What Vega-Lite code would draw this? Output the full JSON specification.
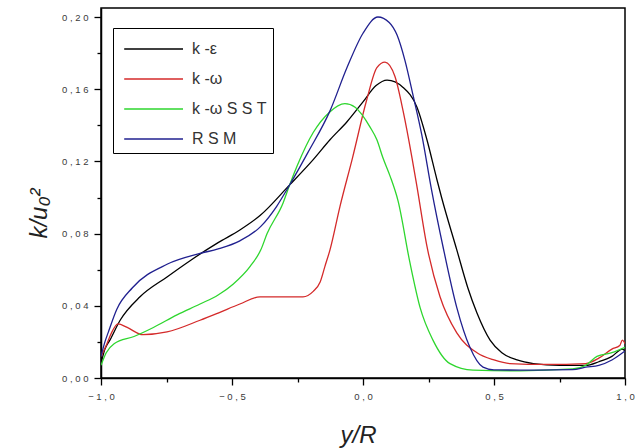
{
  "$schema": "https://vega.github.io/schema/vega-lite/v6.json",
  "width": 524,
  "height": 370,
  "autosize": {"type": "none"},
  "padding": {"left": 101, "top": 8, "right": 17, "bottom": 70},
  "background": "white",
  "config": {
    "view": {"stroke": "black", "strokeWidth": 1.5},
    "font": "Liberation Sans",
    "axis": {
      "domainColor": "black", "domainWidth": 1.5, "tickColor": "black", "tickWidth": 1.3,
      "grid": false, "labelFont": "Liberation Sans", "labelFontSize": 9.5, "labelColor": "#3a3a3a",
      "titleFont": "Liberation Sans", "titleFontStyle": "italic", "titleFontWeight": "normal",
      "titleFontSize": 24, "titleColor": "#222"
    }
  },
  "data": {"values": [
    {"m":"k-ε","x":-1.0,"y":0.008},{"m":"k-ε","x":-0.985,"y":0.016},{"m":"k-ε","x":-0.966,"y":0.021},{"m":"k-ε","x":-0.927,"y":0.032},{"m":"k-ε","x":-0.851,"y":0.045},{"m":"k-ε","x":-0.748,"y":0.056},{"m":"k-ε","x":-0.66,"y":0.065},{"m":"k-ε","x":-0.553,"y":0.075},{"m":"k-ε","x":-0.47,"y":0.082},{"m":"k-ε","x":-0.393,"y":0.090},{"m":"k-ε","x":-0.28,"y":0.107},{"m":"k-ε","x":-0.19,"y":0.121},{"m":"k-ε","x":-0.126,"y":0.132},{"m":"k-ε","x":-0.061,"y":0.142},{"m":"k-ε","x":0.0,"y":0.153},{"m":"k-ε","x":0.05,"y":0.162},{"m":"k-ε","x":0.092,"y":0.165},{"m":"k-ε","x":0.153,"y":0.161},{"m":"k-ε","x":0.206,"y":0.150},{"m":"k-ε","x":0.244,"y":0.132},{"m":"k-ε","x":0.282,"y":0.110},{"m":"k-ε","x":0.30,"y":0.100},{"m":"k-ε","x":0.358,"y":0.071},{"m":"k-ε","x":0.40,"y":0.050},{"m":"k-ε","x":0.435,"y":0.036},{"m":"k-ε","x":0.485,"y":0.021},{"m":"k-ε","x":0.53,"y":0.014},{"m":"k-ε","x":0.588,"y":0.010},{"m":"k-ε","x":0.65,"y":0.008},{"m":"k-ε","x":0.75,"y":0.007},{"m":"k-ε","x":0.85,"y":0.007},{"m":"k-ε","x":0.9,"y":0.009},{"m":"k-ε","x":0.95,"y":0.012},{"m":"k-ε","x":0.99,"y":0.016},{"m":"k-ε","x":1.0,"y":0.015},
    {"m":"k-ω","x":-1.0,"y":0.012},{"m":"k-ω","x":-0.98,"y":0.018},{"m":"k-ω","x":-0.96,"y":0.025},{"m":"k-ω","x":-0.935,"y":0.030},{"m":"k-ω","x":-0.9,"y":0.028},{"m":"k-ω","x":-0.84,"y":0.024},{"m":"k-ω","x":-0.748,"y":0.0255},{"m":"k-ω","x":-0.622,"y":0.032},{"m":"k-ω","x":-0.553,"y":0.036},{"m":"k-ω","x":-0.47,"y":0.041},{"m":"k-ω","x":-0.393,"y":0.045},{"m":"k-ω","x":-0.3,"y":0.045},{"m":"k-ω","x":-0.229,"y":0.045},{"m":"k-ω","x":-0.19,"y":0.048},{"m":"k-ω","x":-0.164,"y":0.053},{"m":"k-ω","x":-0.145,"y":0.062},{"m":"k-ω","x":-0.126,"y":0.071},{"m":"k-ω","x":-0.088,"y":0.095},{"m":"k-ω","x":-0.04,"y":0.122},{"m":"k-ω","x":0.014,"y":0.154},{"m":"k-ω","x":0.053,"y":0.172},{"m":"k-ω","x":0.084,"y":0.175},{"m":"k-ω","x":0.122,"y":0.167},{"m":"k-ω","x":0.153,"y":0.148},{"m":"k-ω","x":0.187,"y":0.122},{"m":"k-ω","x":0.206,"y":0.106},{"m":"k-ω","x":0.244,"y":0.073},{"m":"k-ω","x":0.294,"y":0.045},{"m":"k-ω","x":0.358,"y":0.025},{"m":"k-ω","x":0.435,"y":0.014},{"m":"k-ω","x":0.5,"y":0.010},{"m":"k-ω","x":0.56,"y":0.008},{"m":"k-ω","x":0.7,"y":0.0075},{"m":"k-ω","x":0.85,"y":0.008},{"m":"k-ω","x":0.9,"y":0.011},{"m":"k-ω","x":0.95,"y":0.016},{"m":"k-ω","x":0.98,"y":0.018},{"m":"k-ω","x":0.99,"y":0.021},{"m":"k-ω","x":1.0,"y":0.019},
    {"m":"k-ω SST","x":-1.0,"y":0.007},{"m":"k-ω SST","x":-0.98,"y":0.014},{"m":"k-ω SST","x":-0.95,"y":0.019},{"m":"k-ω SST","x":-0.874,"y":0.023},{"m":"k-ω SST","x":-0.80,"y":0.028},{"m":"k-ω SST","x":-0.71,"y":0.035},{"m":"k-ω SST","x":-0.622,"y":0.041},{"m":"k-ω SST","x":-0.553,"y":0.046},{"m":"k-ω SST","x":-0.496,"y":0.052},{"m":"k-ω SST","x":-0.43,"y":0.062},{"m":"k-ω SST","x":-0.39,"y":0.071},{"m":"k-ω SST","x":-0.366,"y":0.080},{"m":"k-ω SST","x":-0.305,"y":0.097},{"m":"k-ω SST","x":-0.28,"y":0.107},{"m":"k-ω SST","x":-0.25,"y":0.118},{"m":"k-ω SST","x":-0.19,"y":0.136},{"m":"k-ω SST","x":-0.13,"y":0.147},{"m":"k-ω SST","x":-0.069,"y":0.152},{"m":"k-ω SST","x":-0.03,"y":0.150},{"m":"k-ω SST","x":0.027,"y":0.139},{"m":"k-ω SST","x":0.053,"y":0.132},{"m":"k-ω SST","x":0.076,"y":0.122},{"m":"k-ω SST","x":0.103,"y":0.112},{"m":"k-ω SST","x":0.134,"y":0.098},{"m":"k-ω SST","x":0.179,"y":0.064},{"m":"k-ω SST","x":0.218,"y":0.039},{"m":"k-ω SST","x":0.267,"y":0.021},{"m":"k-ω SST","x":0.332,"y":0.008},{"m":"k-ω SST","x":0.42,"y":0.0044},{"m":"k-ω SST","x":0.6,"y":0.004},{"m":"k-ω SST","x":0.8,"y":0.005},{"m":"k-ω SST","x":0.85,"y":0.007},{"m":"k-ω SST","x":0.893,"y":0.012},{"m":"k-ω SST","x":0.95,"y":0.014},{"m":"k-ω SST","x":1.0,"y":0.017},
    {"m":"RSM","x":-1.0,"y":0.012},{"m":"RSM","x":-0.985,"y":0.020},{"m":"RSM","x":-0.973,"y":0.025},{"m":"RSM","x":-0.94,"y":0.038},{"m":"RSM","x":-0.88,"y":0.050},{"m":"RSM","x":-0.748,"y":0.063},{"m":"RSM","x":-0.622,"y":0.069},{"m":"RSM","x":-0.553,"y":0.0715},{"m":"RSM","x":-0.47,"y":0.076},{"m":"RSM","x":-0.39,"y":0.084},{"m":"RSM","x":-0.33,"y":0.095},{"m":"RSM","x":-0.28,"y":0.107},{"m":"RSM","x":-0.21,"y":0.125},{"m":"RSM","x":-0.126,"y":0.148},{"m":"RSM","x":-0.061,"y":0.172},{"m":"RSM","x":0.0,"y":0.191},{"m":"RSM","x":0.057,"y":0.200},{"m":"RSM","x":0.10,"y":0.197},{"m":"RSM","x":0.13,"y":0.190},{"m":"RSM","x":0.16,"y":0.176},{"m":"RSM","x":0.192,"y":0.156},{"m":"RSM","x":0.224,"y":0.135},{"m":"RSM","x":0.262,"y":0.104},{"m":"RSM","x":0.305,"y":0.073},{"m":"RSM","x":0.358,"y":0.039},{"m":"RSM","x":0.408,"y":0.017},{"m":"RSM","x":0.458,"y":0.006},{"m":"RSM","x":0.5,"y":0.0045},{"m":"RSM","x":0.6,"y":0.0044},{"m":"RSM","x":0.8,"y":0.0046},{"m":"RSM","x":0.85,"y":0.006},{"m":"RSM","x":0.9,"y":0.007},{"m":"RSM","x":0.95,"y":0.010},{"m":"RSM","x":1.0,"y":0.015}
  ]},
  "mark": {"type": "line", "strokeWidth": 1.3, "interpolate": "monotone", "clip": true},
  "encoding": {
    "x": {"field": "x", "type": "quantitative", "scale": {"domain": [-1, 1], "nice": false, "zero": false},
      "axis": {"values": [-1, -0.75, -0.5, -0.25, 0, 0.25, 0.5, 0.75, 1],
        "labelExpr": "abs(datum.value*2 - round(datum.value*2)) < 0.001 ? replace(replace(format(datum.value, '.1f'), '.', ','), regexp('(.)(?=.)', 'g'), '$1 ') : ''",
        "tickSize": {"condition": {"test": "abs(datum.value*2 - round(datum.value*2)) < 0.001", "value": 7}, "value": 4},
        "labelPadding": 6, "labelFlush": false, "labelOverlap": false,
        "title": "y/R", "titleX": 257, "titleY": 64, "titleBaseline": "alphabetic"}},
    "y": {"field": "y", "type": "quantitative", "scale": {"domain": [0, 0.205], "nice": false},
      "axis": {"values": [0, 0.02, 0.04, 0.06, 0.08, 0.10, 0.12, 0.14, 0.16, 0.18, 0.20],
        "labelExpr": "abs(datum.value*25 - round(datum.value*25)) < 0.001 ? replace(replace(format(datum.value, '.2f'), '.', ','), regexp('(.)(?=.)', 'g'), '$1 ') : ''",
        "tickSize": {"condition": {"test": "abs(datum.value*25 - round(datum.value*25)) < 0.001", "value": 7}, "value": 4},
        "labelPadding": 6, "labelFlush": false, "labelOverlap": false,
        "title": "k/u₀²", "titleX": -62, "titleY": 205, "titleAngle": 270, "titleBaseline": "middle", "titleAlign": "center"}},
    "color": {"field": "m", "type": "nominal",
      "scale": {"domain": ["k-ε", "k-ω", "k-ω SST", "RSM"], "range": ["#000000", "#d42a2a", "#2ed62e", "#20208f"]},
      "legend": {"title": null, "orient": "none", "legendX": 12, "legendY": 20, "symbolType": "M-0.7,0H3.5",
        "symbolSize": 784, "symbolStrokeWidth": 1.3, "labelFont": "Liberation Sans", "labelFontSize": 16,
        "labelExpr": "replace(datum.label, regexp('([^\\\\s-])(?=\\\\S)', 'g'), '$1 ')",
        "labelColor": "#333", "labelOffset": 43, "padding": 6, "strokeColor": "black",
        "fillColor": "white", "rowPadding": 7}}
  }
}
